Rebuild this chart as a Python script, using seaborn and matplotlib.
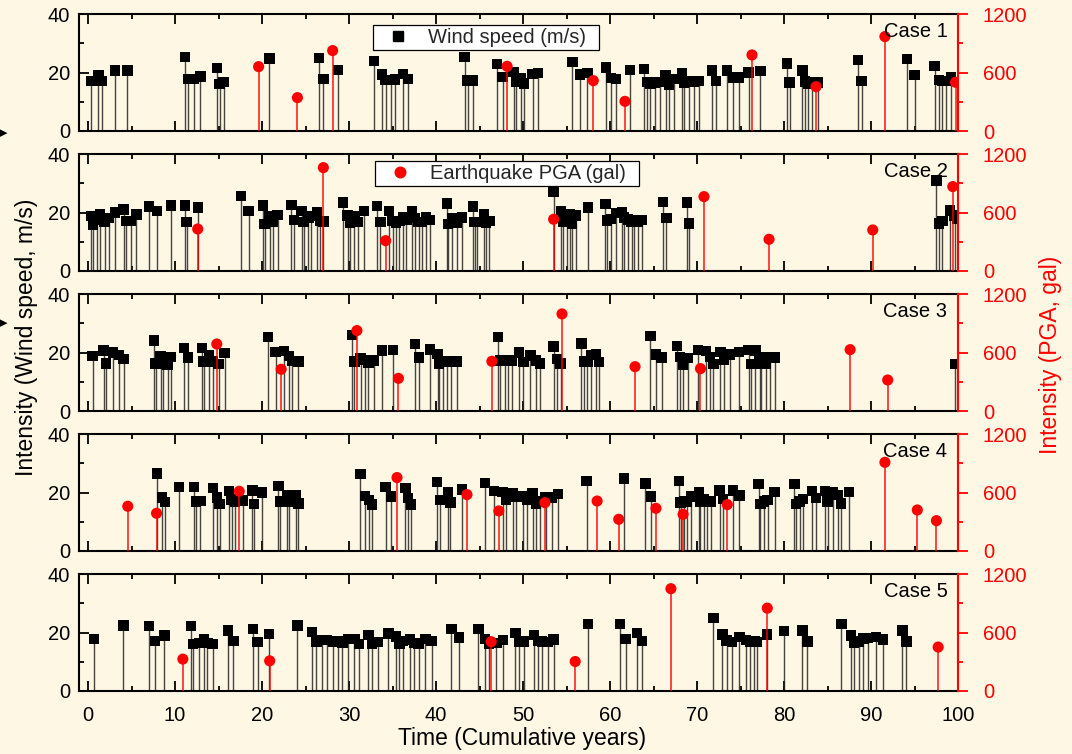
import matplotlib
matplotlib.use("Agg")
import matplotlib.pyplot as plt
import seaborn as sns
from matplotlib.lines import Line2D
from matplotlib.ticker import MultipleLocator

# ---------------- data ----------------
case_names = ["Case 1", "Case 2", "Case 3", "Case 4", "Case 5"]

case1_wind_t = [0.40, 1.19, 1.59, 3.10, 4.53, 11.14, 11.46, 12.13, 12.93, 14.84, 15.12, 15.59, 20.84,
                26.57, 27.05, 28.76, 32.90, 33.81, 34.21, 34.81, 35.32, 36.20, 36.79, 43.28, 43.64, 44.23,
                47.02, 47.65, 48.93, 49.20, 49.72, 50.12, 51.11, 51.71, 55.68, 56.52, 57.40, 59.52, 60.08,
                60.72, 62.28, 63.92, 64.24, 64.64, 65.20, 65.72, 66.40, 66.80, 67.40, 68.28, 68.52, 69.12,
                69.60, 70.24, 71.72, 72.20, 73.48, 74.12, 74.80, 75.92, 77.28, 80.32, 80.64, 82.12, 82.40,
                82.80, 83.20, 83.92, 88.52, 88.92, 94.12, 95.00, 97.32, 97.80, 98.20, 98.60, 99.20]
case1_wind_v = [17.1, 19.0, 17.1, 20.8, 20.8, 25.4, 17.8, 17.8, 18.7, 21.6, 16.1, 16.7, 24.8,
                25.0, 17.8, 21.0, 24.0, 19.4, 17.5, 17.5, 17.7, 19.5, 17.8, 25.4, 17.3, 17.3,
                23.0, 18.5, 20.2, 16.7, 18.1, 16.3, 19.5, 19.8, 23.7, 19.3, 19.8, 21.8, 18.1,
                17.8, 21.0, 21.3, 16.8, 16.3, 16.6, 16.8, 19.1, 16.0, 17.8, 19.8, 16.6, 16.9,
                16.8, 17.1, 20.8, 17.1, 20.7, 18.3, 18.4, 20.1, 20.6, 23.1, 16.6, 20.8, 16.9,
                16.3, 16.6, 16.6, 24.3, 17.1, 24.7, 19.1, 22.3, 17.5, 17.1, 17.1, 18.6]
case1_pga_t = [19.61, 24.07, 28.12, 48.17, 58.08, 61.72, 76.32, 83.68, 91.60, 99.72]
case1_pga_v = [662, 343, 827, 665, 518, 305, 782, 456, 971, 501]

case2_wind_t = [0.32, 0.60, 0.99, 1.39, 1.91, 2.39, 3.10, 4.10, 4.38, 4.89, 5.57, 7.04, 7.96, 9.55,
                11.14, 11.34, 12.65, 17.58, 18.46, 20.09, 20.29, 20.88, 21.28, 21.80, 23.39, 23.67,
                24.54, 24.78, 25.34, 25.58, 26.33, 26.65, 27.05, 29.32, 29.83, 30.11, 30.63, 31.03,
                31.74, 33.21, 33.61, 34.61, 35.00, 35.40, 35.80, 36.20, 36.59, 37.27, 37.59, 37.99,
                38.38, 38.86, 39.30, 41.25, 41.37, 41.85, 42.36, 42.96, 44.27, 44.43, 44.75, 45.54,
                45.74, 46.14, 53.52, 54.40, 54.60, 55.00, 55.40, 55.60, 56.12, 57.48, 59.48, 59.68,
                60.08, 60.68, 61.40, 61.60, 62.08, 62.48, 62.80, 63.20, 63.68, 66.08, 66.48, 68.88,
                69.08, 97.52, 97.80, 98.20, 99.08, 99.60, 99.95]
case2_wind_v = [18.9, 15.9, 17.5, 19.5, 17.0, 18.2, 20.0, 21.1, 17.1, 17.1, 19.4, 22.1, 20.5, 22.4,
                22.4, 16.8, 21.8, 25.7, 20.6, 22.4, 16.1, 18.9, 17.0, 19.1, 22.6, 17.5,
                20.6, 16.8, 18.4, 18.9, 20.0, 17.1, 16.9, 23.5, 19.0, 16.6, 18.9, 16.8,
                20.6, 22.3, 16.8, 20.6, 17.1, 16.6, 17.1, 18.6, 17.5, 20.6, 18.1, 16.8,
                16.8, 18.5, 17.5, 23.2, 16.2, 18.1, 16.6, 18.4, 22.1, 16.8, 16.8, 19.4,
                16.6, 17.1, 27.0, 20.6, 16.9, 17.5, 19.5, 16.3, 19.0, 21.8, 23.0, 17.3,
                17.8, 19.8, 20.0, 18.4, 17.7, 16.9, 17.5, 16.9, 17.5, 23.7, 18.2, 23.5,
                16.3, 31.0, 16.3, 17.1, 20.7, 19.0, 17.8]
case2_pga_t = [12.61, 27.05, 34.21, 53.52, 70.80, 78.28, 90.20, 99.40]
case2_pga_v = [432, 1063, 312, 532, 765, 326, 422, 868]

case3_wind_t = [0.52, 1.79, 2.07, 2.86, 3.58, 4.10, 7.56, 7.76, 8.35, 8.67, 9.15, 9.55, 11.06, 11.46,
                13.13, 13.29, 13.92, 14.32, 15.00, 15.71, 20.68, 21.56, 22.51, 23.07, 23.47, 24.18,
                30.31, 30.63, 31.34, 31.82, 32.22, 32.82, 33.81, 35.08, 37.59, 38.07, 39.30, 40.18,
                40.37, 40.77, 41.29, 41.77, 42.36, 47.14, 47.33, 47.93, 48.33, 48.73, 49.52, 50.04,
                50.84, 51.51, 51.92, 53.52, 53.92, 54.32, 56.72, 57.00, 57.40, 57.80, 58.40, 58.72,
                64.64, 65.32, 65.92, 67.68, 68.08, 68.40, 69.00, 70.12, 71.00, 71.52, 71.88, 72.68,
                73.08, 73.80, 74.80, 75.92, 76.20, 76.72, 77.20, 77.40, 77.88, 78.40, 79.00, 99.68]
case3_wind_v = [18.9, 20.8, 16.3, 20.0, 19.2, 17.8, 24.2, 16.3, 18.9, 16.3, 15.8, 18.6, 21.6, 18.4,
                21.6, 16.9, 19.1, 16.9, 16.1, 19.8, 25.3, 20.2, 20.5, 18.9, 17.1, 16.9,
                26.1, 16.9, 18.1, 17.5, 16.6, 17.3, 20.7, 20.9, 23.0, 18.4, 21.1, 19.5,
                16.1, 16.9, 16.9, 16.9, 16.9, 25.3, 17.3, 17.3, 17.5, 17.3, 20.1, 16.8,
                19.0, 17.3, 16.3, 22.1, 17.8, 16.3, 23.2, 16.9, 16.9, 19.2, 19.5, 16.7,
                25.8, 19.3, 18.3, 22.2, 18.6, 15.9, 18.1, 21.0, 20.5, 18.6, 16.1, 20.2,
                17.5, 19.3, 20.3, 20.9, 16.1, 20.7, 18.6, 16.1, 16.3, 18.3, 18.4, 16.1]
case3_pga_t = [14.80, 22.20, 30.91, 35.68, 46.42, 54.48, 62.88, 70.40, 87.60, 91.92]
case3_pga_v = [689, 429, 827, 336, 511, 998, 456, 436, 631, 319]

case4_wind_t = [7.96, 8.47, 8.87, 10.46, 12.21, 12.41, 12.93, 14.40, 14.84, 15.12, 16.19, 16.51, 16.91,
                17.78, 18.89, 19.09, 19.97, 21.88, 22.08, 22.87, 23.15, 23.87, 24.18, 31.30, 31.82,
                32.30, 32.62, 34.21, 34.81, 36.48, 36.79, 37.11, 40.10, 40.49, 41.37, 41.65, 42.96,
                45.62, 46.66, 47.65, 48.05, 48.85, 49.24, 50.04, 50.44, 51.11, 51.51, 51.91, 52.60,
                53.28, 54.00, 57.32, 61.60, 64.08, 64.68, 67.92, 68.12, 68.52, 68.88, 69.28, 70.20,
                70.40, 70.80, 71.12, 71.60, 72.60, 73.00, 74.12, 74.88, 77.08, 77.28, 77.68, 78.12,
                78.92, 81.20, 81.40, 81.80, 82.20, 83.20, 83.68, 84.68, 85.00, 85.60, 86.20, 86.52,
                87.48]
case4_wind_v = [26.6, 18.4, 16.8, 21.9, 21.9, 17.0, 17.1, 21.6, 18.4, 16.1, 20.6, 17.7, 16.9,
                17.3, 20.8, 16.1, 20.0, 22.3, 16.9, 19.2, 16.9, 19.0, 16.3, 26.4, 18.9,
                17.5, 15.9, 21.9, 18.7, 21.6, 18.2, 15.9, 23.7, 17.5, 20.1, 16.6, 21.1,
                23.4, 20.5, 20.3, 17.4, 19.8, 18.6, 18.9, 17.5, 19.8, 16.3, 17.0, 18.4,
                18.3, 19.5, 23.9, 24.8, 23.1, 18.7, 24.0, 16.6, 17.1, 16.8, 18.7, 20.2,
                17.0, 17.7, 17.0, 17.0, 20.7, 17.9, 20.7, 19.0, 23.0, 16.1, 16.9, 17.5,
                20.2, 23.0, 16.1, 16.9, 17.8, 20.6, 18.2, 20.6, 16.9, 20.0, 19.1, 16.3,
                20.2]
case4_pga_t = [4.57, 7.88, 17.38, 35.52, 43.56, 47.22, 52.52, 58.52, 61.00, 65.28, 68.40, 73.48,
               91.60, 95.32, 97.52]
case4_pga_v = [460, 388, 614, 755, 580, 412, 497, 514, 326, 439, 377, 477, 912, 422, 312]

case5_wind_t = [0.72, 4.06, 7.04, 7.68, 8.79, 11.81, 12.05, 12.73, 13.33, 13.72, 14.32, 16.11, 16.71,
                18.97, 19.49, 20.80, 24.07, 25.74, 26.25, 26.85, 27.45, 28.16, 28.72, 29.24, 29.91,
                30.63, 31.15, 32.22, 32.62, 33.29, 34.53, 35.40, 35.80, 36.20, 36.99, 37.51, 37.99,
                38.78, 39.50, 41.77, 42.64, 44.87, 45.62, 46.06, 46.94, 47.73, 49.12, 49.52, 50.12,
                51.23, 51.71, 52.20, 52.88, 53.52, 57.48, 61.12, 61.80, 63.12, 63.68, 71.88, 72.92,
                73.40, 74.00, 74.88, 75.60, 76.12, 76.60, 76.92, 78.08, 80.00, 82.12, 82.68, 86.60,
                87.68, 88.08, 88.60, 89.12, 89.60, 90.60, 91.40, 93.60, 94.08]
case5_wind_v = [17.8, 22.4, 22.2, 17.2, 19.0, 22.2, 16.1, 16.4, 17.6, 16.4, 16.1, 20.7, 17.2,
                21.3, 16.8, 19.5, 22.4, 20.3, 16.9, 17.5, 17.5, 17.0, 17.2, 16.4, 17.8,
                17.8, 16.1, 19.2, 16.1, 16.8, 19.7, 18.7, 16.1, 17.2, 17.6, 16.4, 16.1,
                17.8, 17.2, 21.3, 18.3, 21.3, 17.8, 16.1, 16.4, 17.4, 19.9, 16.7, 17.0,
                19.2, 17.2, 17.0, 16.7, 17.6, 23.0, 22.9, 17.9, 19.8, 17.1, 25.0, 19.4,
                17.3, 16.7, 18.6, 17.5, 17.0, 17.0, 16.7, 19.4, 20.6, 20.8, 17.0, 23.0,
                19.0, 16.4, 17.0, 18.0, 18.1, 18.6, 17.6, 20.8, 16.9]
case5_pga_t = [10.90, 20.88, 46.34, 56.00, 67.00, 78.08, 97.72]
case5_pga_v = [328, 310, 507, 303, 1052, 852, 452]

wind_ticks = [0, 20, 40]
pga_ticks = [0, 600, 1200]

wind_t = [case1_wind_t, case2_wind_t, case3_wind_t, case4_wind_t, case5_wind_t]
wind_v = [case1_wind_v, case2_wind_v, case3_wind_v, case4_wind_v, case5_wind_v]
pga_t = [case1_pga_t, case2_pga_t, case3_pga_t, case4_pga_t, case5_pga_t]
pga_v = [case1_pga_v, case2_pga_v, case3_pga_v, case4_pga_v, case5_pga_v]

# ---------------- style ----------------
sns.set_theme(style="ticks")
plt.rcParams["font.family"] = ["Liberation Sans", "DejaVu Sans"]
BG = "#FEF7E4"
FS = 14.5

W, H = 1072, 754
fig = plt.figure(figsize=(W / 100, H / 100), dpi=100, facecolor=BG)

left_px, right_px = 78.7, 958.0
ax_h = 116.7

for i in range(5):
    top_px = 14.3 + 140 * i
    ax = fig.add_axes([left_px / W, 1 - (top_px + ax_h) / H, (right_px - left_px) / W, ax_h / H])
    ax.set_facecolor(BG)
    ax.vlines(wind_t[i], 0, wind_v[i], color="#262626", lw=1.0, alpha=0.85, zorder=2)
    sns.scatterplot(x=wind_t[i], y=wind_v[i], marker="s", s=56, color="black",
                    edgecolor="none", linewidth=0, ax=ax, zorder=3, legend=False)
    ax.set_xlim(-1.07, 100)
    ax.set_ylim(0, 40)
    ax.xaxis.set_major_locator(MultipleLocator(10))
    ax.xaxis.set_minor_locator(MultipleLocator(5))
    ax.set_yticks(wind_ticks)
    ax.yaxis.set_minor_locator(MultipleLocator(10))
    ax.tick_params(axis="x", which="both", direction="in", top=True, bottom=True,
                   colors="black", width=1.3, labelsize=FS, pad=11)
    ax.tick_params(axis="x", which="major", length=7)
    ax.tick_params(axis="x", which="minor", length=3.5)
    ax.tick_params(axis="y", which="both", direction="in", left=True, right=False,
                   colors="black", width=1.3, labelsize=FS, pad=6)
    ax.tick_params(axis="y", which="major", length=7)
    ax.tick_params(axis="y", which="minor", length=3.5)
    if i < 4:
        ax.tick_params(axis="x", labelbottom=False)
    for sp in ax.spines.values():
        sp.set_linewidth(1.5)
        sp.set_color("black")
    ax.spines["right"].set_visible(False)
    ax.set_xlabel("")
    ax.set_ylabel("")

    ax2 = ax.twinx()
    ax2.vlines(pga_t[i], 0, pga_v[i], color="red", lw=1.2, alpha=0.85, zorder=2)
    sns.scatterplot(x=pga_t[i], y=pga_v[i], marker="o", s=64, color="red",
                    edgecolor="none", linewidth=0, ax=ax2, zorder=3, legend=False)
    ax2.set_ylim(0, 1200)
    ax2.set_xlim(-1.07, 100)
    ax2.set_yticks(pga_ticks)
    ax2.yaxis.set_minor_locator(MultipleLocator(300))
    ax2.tick_params(axis="y", which="both", direction="out", right=True, left=False,
                    colors="red", width=1.3, labelsize=FS, pad=11)
    ax2.tick_params(axis="y", which="major", length=7)
    ax2.tick_params(axis="y", which="minor", length=3.5)
    for name, sp in ax2.spines.items():
        sp.set_linewidth(1.5)
        sp.set_visible(name == "right")
    ax2.spines["right"].set_color("red")
    ax2.set_xlabel("")
    ax2.set_ylabel("")

    ax2.text(0.988, 0.85, case_names[i], transform=ax2.transAxes, ha="right", va="center",
             fontsize=FS, color="black", zorder=10)

    if i == 0:
        h = Line2D([], [], marker="s", color="black", ls="none", markersize=7.3)
        lg = ax2.legend([h], ["Wind speed (m/s)\u2002"], loc="upper left",
                        bbox_to_anchor=(0.3347, 0.908), borderaxespad=0, frameon=True,
                        fancybox=False, edgecolor="black", facecolor="white", framealpha=1,
                        fontsize=FS, borderpad=0.14, handlelength=2.2, handletextpad=0.4)
        lg.get_frame().set_linewidth(0.9)
        lg.set_zorder(20)
    if i == 1:
        h = Line2D([], [], marker="o", color="red", ls="none", markersize=7.6)
        lg = ax2.legend([h], ["Earthquake PGA (gal)\u2002"], loc="upper left",
                        bbox_to_anchor=(0.337, 0.943), borderaxespad=0, frameon=True,
                        fancybox=False, edgecolor="black", facecolor="white", framealpha=1,
                        fontsize=FS, borderpad=0.14, handlelength=2.2, handletextpad=0.4)
        lg.get_frame().set_linewidth(0.9)
        lg.set_zorder(20)

fig.text(27 / W, 1 - 337 / H, "Intensity (Wind speed, m/s)", rotation=90, ha="center",
         va="center", fontsize=16.5, color="black")
fig.text(1050 / W, 1 - 355 / H, "Intensity (PGA, gal)", rotation=90, ha="center",
         va="center", fontsize=16.5, color="red")
fig.text(522 / W, 1 - 738 / H, "Time (Cumulative years)", ha="center", va="center",
         fontsize=16.5, color="black")

for yy in (133, 323):
    fig.text(3 / W, 1 - yy / H, "\u25B6", ha="center", va="center", fontsize=8,
             color="black", family=["DejaVu Sans"])

fig.savefig("out.png", dpi=100, facecolor=BG)
